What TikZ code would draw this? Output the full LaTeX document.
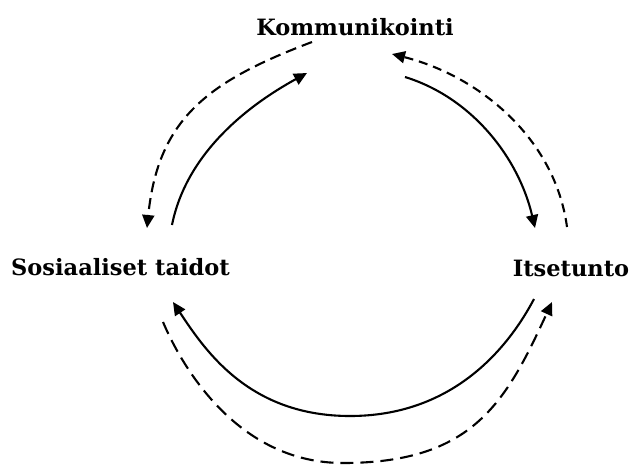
\documentclass[tikz,border=0pt]{standalone}
\usepackage{fontspec}
\newfontfamily\labelfont{DejaVu Serif}
\usetikzlibrary{arrows.meta}
\begin{document}
\begin{tikzpicture}[x=1pt,y=-1pt,
  label/.style={font=\labelfont\fontsize{22.5}{27}\selectfont\bfseries, inner sep=0pt, anchor=base},
  flow/.style={line width=2.1pt, -{Triangle[length=13pt,width=12pt]}},
  back/.style={flow, dash pattern=on 11pt off 6pt}]
\useasboundingbox (0,0) rectangle (632,464);

% the three themes
\node[label] (kom) at (355,35) {Kommunikointi};
\node[label] (sos) at (120.5,275) {Sosiaaliset taidot};
\node[label] (its) at (571,276) {Itsetunto};

% arrow ends around the labels
\coordinate (sosA) at (172,225);  \coordinate (komA) at (307,73);
\coordinate (komB) at (312,42);   \coordinate (sosB) at (147,228);
\coordinate (itsC) at (567,227);  \coordinate (komC) at (392,54);
\coordinate (komD) at (405,77);   \coordinate (itsD) at (535,228);
\coordinate (itsE) at (534,299);  \coordinate (sosE) at (173,302);
\coordinate (sosF) at (163,322);  \coordinate (itsF) at (552,302);

% solid arrows (clockwise)
\draw[flow] (sosA) .. controls (186,155) and (245,107) .. (komA);
\draw[flow] (komD) .. controls (473,98) and (519,159) .. (itsD);
\draw[flow] (itsE) .. controls (506,352) and (450,416) .. (350,416)
                   .. controls (250,416) and (206,352) .. (sosE);

% dashed arrows (counter-clockwise)
\draw[back] (komB) .. controls (209,81) and (158,118) .. (sosB);
\draw[back, dash pattern=on 9pt off 6pt] (itsC) .. controls (555,138) and (479,76) .. (komC);
\draw[back, dash pattern=on 13pt off 7pt] (sosF) .. controls (186,376) and (243,463) .. (343,463)
                   .. controls (473,463) and (506,402) .. (itsF);
\end{tikzpicture}
\end{document}
